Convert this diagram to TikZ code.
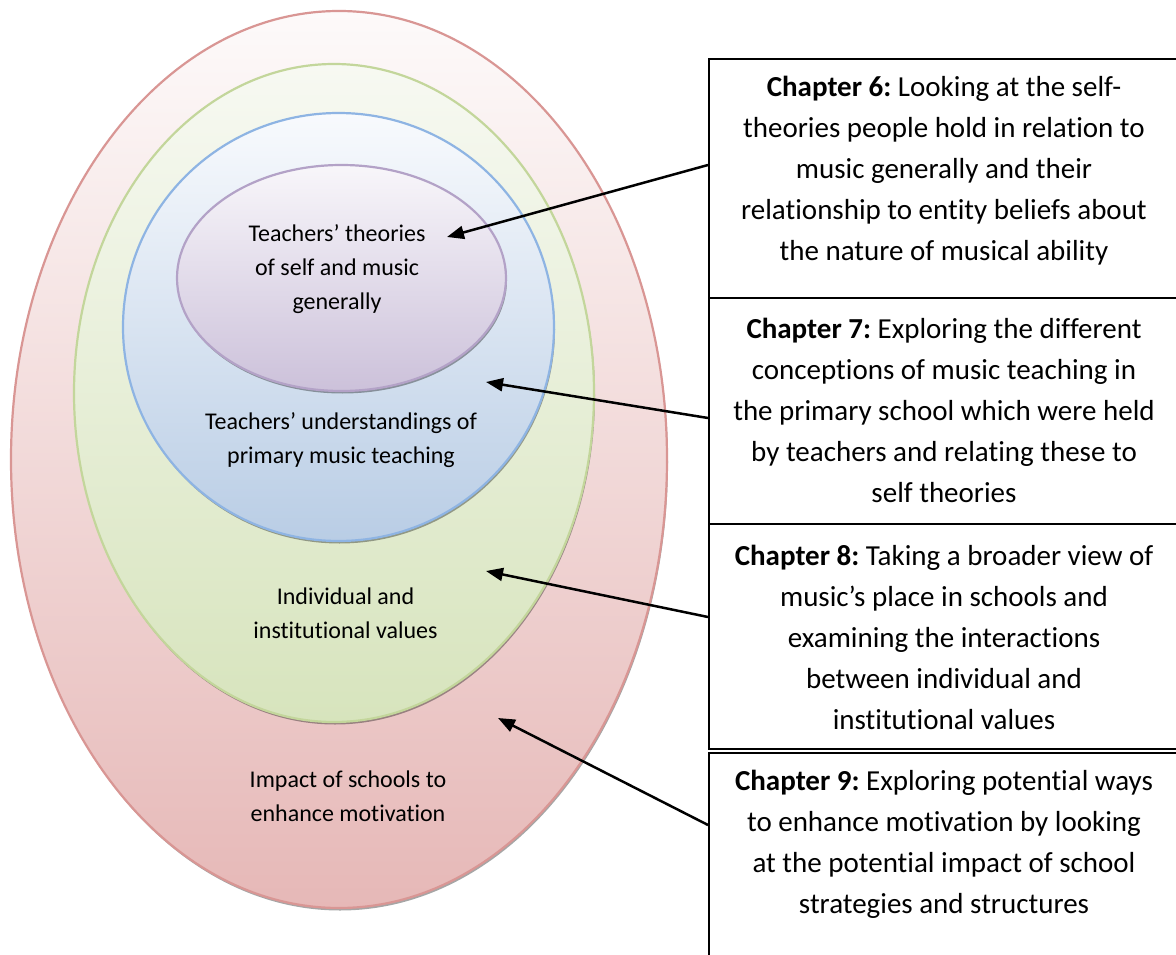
\documentclass[tikz,border=0pt]{standalone}
\usepackage{fontspec}
\setmainfont{Carlito}[Ligatures=NoCommon]
\frenchspacing
\usetikzlibrary{arrows.meta,shapes.geometric,shadows}
\definecolor{redB}{HTML}{D99694}
\definecolor{redT}{HTML}{FDFAFA}
\definecolor{redF}{HTML}{E6B8B7}
\definecolor{grnB}{HTML}{C3D69B}
\definecolor{grnT}{HTML}{F7F9F2}
\definecolor{grnF}{HTML}{D7E4BD}
\definecolor{bluB}{HTML}{8EB4E3}
\definecolor{bluT}{HTML}{F8FAFD}
\definecolor{bluF}{HTML}{B9CDE5}
\definecolor{purB}{HTML}{B3A2C7}
\definecolor{purT}{HTML}{F8F6FA}
\definecolor{purF}{HTML}{CCC1DA}
\tikzset{
  ell/.style={ellipse, inner sep=0pt, line width=2.2pt,
    drop shadow={shadow xshift=1pt, shadow yshift=-2.5pt, opacity=0.35, fill=black}},
  etxt/.style={align=center, inner sep=0pt, font=\fontsize{24}{34}\selectfont},
  box/.style={draw=black, line width=2pt, rectangle, inner sep=0pt},
  btxt/.style={align=center, inner sep=0pt, font=\fontsize{29}{41}\selectfont},
  arr/.style={line width=2.5pt, -{Triangle[length=17pt,width=13pt]}}
}
\begin{document}
\begin{tikzpicture}[x=1pt,y=-1pt]
\clip (0,0) rectangle (1176,955);
\fill[white] (0,0) rectangle (1176,955);

% nested ellipses
\node[ell, draw=redB, top color=redT, bottom color=redF,
  minimum width=656pt, minimum height=897pt] (outer) at (339,459.5) {};
\node[ell, draw=grnB, top color=grnT, bottom color=grnF,
  minimum width=520pt, minimum height=658pt] (values) at (334,393) {};
\node[ell, draw=bluB, top color=bluT, bottom color=bluF,
  minimum width=431pt, minimum height=428pt] (teach) at (338.5,327) {};
\node[ell, draw=purB, top color=purT, bottom color=purF,
  minimum width=329pt, minimum height=226pt] (self) at (341.5,278) {};

% ellipse labels
\node[etxt] (lself) at (337,269) {Teachers’ theories\\of self and music\\generally};
\node[etxt] (lteach) at (341,440) {Teachers’ understandings of\\primary music teaching};
\node[etxt] (lvalues) at (345.5,613) {Individual and\\institutional values};
\node[etxt] (louter) at (348,796) {Impact of schools to\\enhance motivation};

% chapter boxes
\node[box, minimum width=470pt, minimum height=239pt] (ch6) at (944,178.5) {};
\node[box, minimum width=470pt, minimum height=226pt] (ch7) at (944,411) {};
\node[box, minimum width=470pt, minimum height=225pt] (ch8) at (944,636.5) {};
\node[box, minimum width=470pt, minimum height=247.5pt] (ch9) at (944,876.25) {};

\node[btxt] (tch6) at (944,171) {\textbf{Chapter 6:} Looking at the self-\\theories people hold in relation to\\music generally and their\\relationship to entity beliefs about\\the nature of musical ability};
\node[btxt] (tch7) at (944,410.5) {\textbf{Chapter 7:} Exploring the different\\conceptions of music teaching in\\the primary school which were held\\by teachers and relating these to\\self theories};
\node[btxt] (tch8) at (944,637) {\textbf{Chapter 8:} Taking a broader view of\\music’s place in schools and\\examining the interactions\\between individual and\\institutional values};
\node[btxt] (tch9) at (944,844.5) {\textbf{Chapter 9:} Exploring potential ways\\to enhance motivation by looking\\at the potential impact of school\\strategies and structures};

% arrow targets
\coordinate (p6) at (447,237);
\coordinate (p7) at (486,382);
\coordinate (p8) at (486,571);
\coordinate (p9) at (498,718);

\draw[arr] ([yshift=13.5pt]ch6.west) -- (p6);
\draw[arr] ([yshift=-7pt]ch7.west) -- (p7);
\draw[arr] ([yshift=19.5pt]ch8.west) -- (p8);
\draw[arr] ([yshift=51.25pt]ch9.west) -- (p9);
\end{tikzpicture}
\end{document}
